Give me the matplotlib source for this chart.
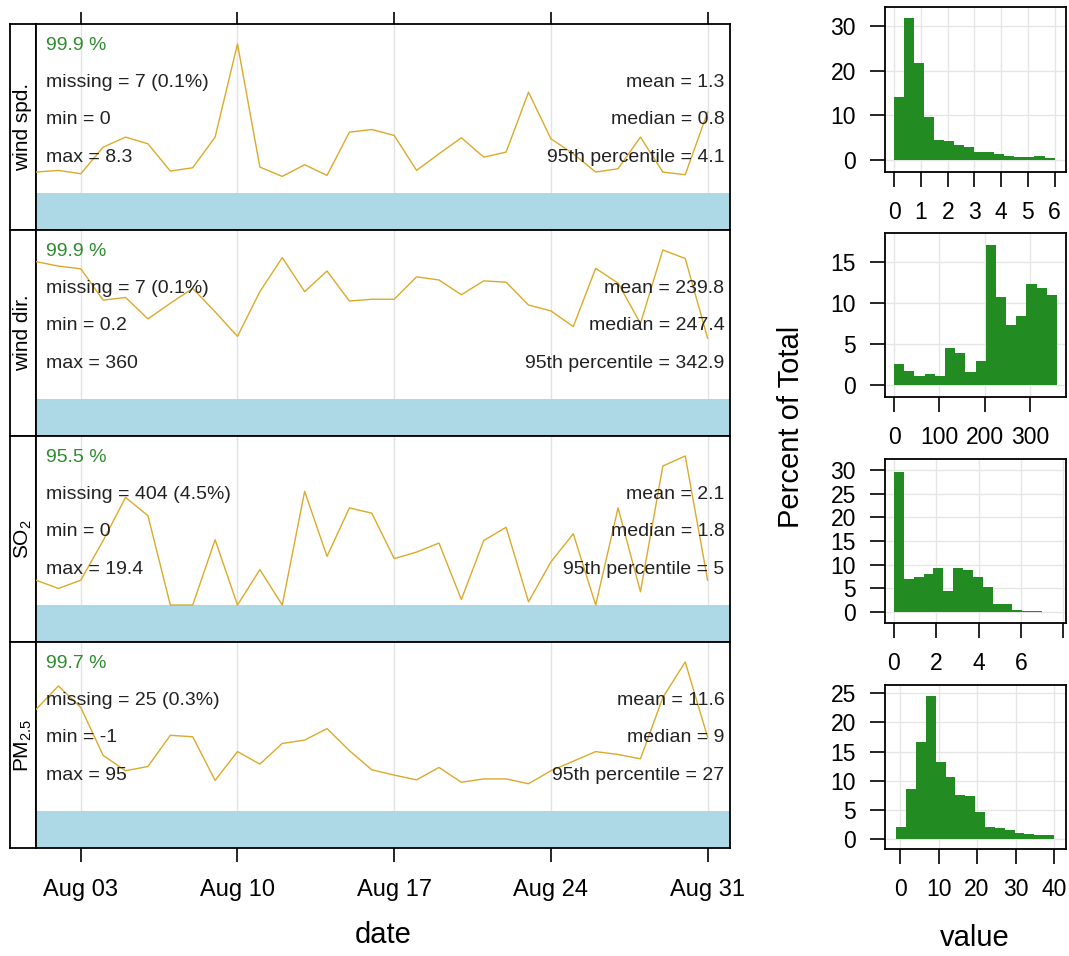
import numpy as np
import pandas as pd
import matplotlib
matplotlib.use("Agg")
import matplotlib.pyplot as plt
import matplotlib.dates as mdates

plt.rcParams['font.family'] = ['Liberation Sans', 'DejaVu Sans']
plt.rcParams['mathtext.fontset'] = 'custom'
plt.rcParams['mathtext.rm'] = 'Liberation Sans'
plt.rcParams['mathtext.it'] = 'Liberation Sans:italic'

# daily means, Aug 1 .. Aug 31
days = pd.date_range("2000-08-01", periods=31, freq="D")
ws = [0.63, 0.68, 0.58, 1.38, 1.68, 1.48, 0.66, 0.76, 1.68, 4.48, 0.78, 0.50, 0.85, 0.53, 1.83, 1.91,
      1.73, 0.68, 1.18, 1.66, 1.08, 1.23, 3.03, 1.63, 1.18, 0.63, 0.73, 1.68, 0.63, 0.55, 2.43]
wd = [307, 297, 291, 221, 227, 179, 214, 247, 195, 140, 240, 316, 240, 286, 219, 223,
      223, 273, 266, 233, 264, 261, 210, 197, 162, 292, 259, 169, 333, 314, 136]
so2 = [0.99, 0.66, 0.99, 2.57, 4.29, 3.56, 0.0, 0.0, 2.6, 0.0, 1.41, 0.0, 4.53, 1.94, 3.87, 3.66,
       1.85, 2.11, 2.47, 0.22, 2.57, 3.1, 0.13, 1.72, 2.84, 0.0, 3.87, 0.53, 5.54, 5.94, 0.99]
pm25 = [20.2, 25.1, 20.6, 10.6, 7.4, 8.3, 14.8, 14.5, 5.4, 11.4, 8.8, 13.1, 13.8, 16.2, 11.6, 7.6,
        6.5, 5.5, 8.1, 5.0, 5.7, 5.7, 4.7, 7.4, 9.4, 11.4, 10.8, 9.9, 22.7, 30.1, 14.4]

names = ["wind spd.", "wind dir.", "SO$_2$", "PM$_{2.5}$"]
series = [ws, wd, so2, pm25]
pct = ["99.9 %", "99.9 %", "95.5 %", "99.7 %"]
missing = ["missing = 7 (0.1%)", "missing = 7 (0.1%)", "missing = 404 (4.5%)", "missing = 25 (0.3%)"]
mins = [0, 0.2, 0, -1]
maxs = ["8.3", "360", "19.4", "95"]
means = ["1.3", "239.8", "2.1", "11.6"]
medians = ["0.8", "247.4", "1.8", "9"]
p95 = ["4.1", "342.9", "5", "27"]

# histograms (percent of total)
hist_edges = [(0, 6), (0, 360), (0, 7), (-1, 40)]
hist_vals = [
    [14.0, 31.8, 21.7, 9.6, 4.4, 4.3, 3.3, 2.8, 1.9, 1.8, 1.3, 1.0, 0.6, 0.6, 0.9, 0.5],
    [2.5, 1.75, 1.15, 1.3, 1.15, 4.5, 3.85, 1.55, 2.95, 17.1, 10.7, 7.3, 8.4, 12.35, 11.8, 10.9],
    [29.5, 7.05, 7.4, 8.1, 9.2, 4.45, 9.2, 8.8, 7.3, 5.3, 1.75, 1.75, 0.35, 0.3, 0.3],
    [2.0, 8.6, 16.7, 24.5, 13.2, 10.6, 7.6, 7.3, 4.65, 2.0, 1.9, 1.6, 1.05, 0.95, 0.65, 0.65],
]
hist_xticks = [[0, 1, 2, 3, 4, 5, 6], [0, 100, 200, 300], [0, 2, 4, 6, 8], [0, 10, 20, 30, 40]]
hist_xlabels = [["0", "1", "2", "3", "4", "5", "6"], ["0", "100", "200", "300"],
                ["0", "2", "4", "6", ""], ["0", "10", "20", "30", "40"]]
hist_yticks = [[0, 10, 20, 30], [0, 5, 10, 15], [0, 5, 10, 15, 20, 25, 30], [0, 5, 10, 15, 20, 25]]

W, H = 1069, 956
fig = plt.figure(figsize=(W / 100, H / 100), dpi=100)


def rect(x0, y0, x1, y1):
    return [x0 / W, 1 - y1 / H, (x1 - x0) / W, (y1 - y0) / H]


line_col = "#dcaa2a"
band_col = "#add8e6"
green = "#2e8b2e"
txt_col = "#222222"
lw_frame = 1.3

for i in range(4):
    top = 24 + 206 * i
    bot = top + 206
    sax = fig.add_axes(rect(10, top, 36, bot))
    sax.set_xticks([])
    sax.set_yticks([])
    for s in sax.spines.values():
        s.set_linewidth(lw_frame)
    sax.text(0.5, 0.5, names[i], rotation=90, ha="center", va="center",
             fontsize=15, transform=sax.transAxes)

    ax = fig.add_axes(rect(36, top, 730, bot))
    vals = series[i]
    lo = mins[i]
    r = max(vals) - lo
    y0, y1 = lo - 0.248 * r, lo + 1.134 * r
    ax.set_ylim(y0, y1)
    ax.set_xlim(days[0], days[-1] + pd.Timedelta(days=1))
    ax.axhspan(y0, lo, color=band_col, lw=0, zorder=1)
    ax.plot(days, vals, color=line_col, lw=1.0, zorder=3)
    ax.set_xticks(days[2::7])
    ax.xaxis.set_major_formatter(mdates.DateFormatter("%b %d"))
    ax.grid(axis="x", color="#e3e3e3", lw=1, zorder=0)
    ax.set_axisbelow(True)
    ax.set_yticks([])
    for s in ax.spines.values():
        s.set_linewidth(lw_frame)
    if i == 0:
        ax.tick_params(axis="x", top=True, bottom=False, labeltop=False, labelbottom=False,
                       direction="out", length=9, width=1.2)
    elif i == 3:
        ax.tick_params(axis="x", direction="out", length=10, width=1.2, labelsize=17, pad=12)
    else:
        ax.tick_params(axis="x", bottom=False, labelbottom=False)

    tr = ax.transAxes
    fs = 14
    xl, xr = 0.0145, 0.992
    ax.text(xl, 0.898, pct[i], color=green, fontsize=fs, va="center", ha="left", transform=tr, zorder=4)
    ax.text(xl, 0.714, missing[i], color=txt_col, fontsize=fs, va="center", ha="left", transform=tr, zorder=4)
    ax.text(xl, 0.534, "min = %s" % mins[i], color=txt_col, fontsize=fs, va="center", ha="left", transform=tr, zorder=4)
    ax.text(xl, 0.354, "max = %s" % maxs[i], color=txt_col, fontsize=fs, va="center", ha="left", transform=tr, zorder=4)
    ax.text(xr, 0.714, "mean = %s" % means[i], color=txt_col, fontsize=fs, va="center", ha="right", transform=tr, zorder=4)
    ax.text(xr, 0.534, "median = %s" % medians[i], color=txt_col, fontsize=fs, va="center", ha="right", transform=tr, zorder=4)
    ax.text(xr, 0.354, "95th percentile = %s" % p95[i], color=txt_col, fontsize=fs, va="center", ha="right", transform=tr, zorder=4)

fig.text(383 / W, 1 - 935 / H, "date", fontsize=21, ha="center", va="center")

# histograms
hist_rects = [(885, 7, 1066, 172), (885, 233, 1066, 397), (885, 459, 1066, 623), (885, 685, 1066, 849)]
hist_xlim = [(-0.35, 6.43), (-20, 380), (-0.42, 8.13), (-3.9, 43.1)]
hist_ylim = [(-2.68, 34.2), (-1.46, 18.5), (-2.3, 32.3), (-1.7, 26.4)]

for i in range(4):
    hax = fig.add_axes(rect(*hist_rects[i]))
    a, b = hist_edges[i]
    edges = np.linspace(a, b, len(hist_vals[i]) + 1)
    hax.stairs(hist_vals[i], edges, baseline=0, fill=True, color="#228b22", zorder=3)
    hax.set_xlim(*hist_xlim[i])
    hax.set_ylim(*hist_ylim[i])
    hax.set_xticks(hist_xticks[i])
    hax.set_xticklabels(hist_xlabels[i])
    hax.set_yticks(hist_yticks[i])
    hax.grid(color="#e6e6e6", lw=1, zorder=0)
    hax.set_axisbelow(True)
    hax.tick_params(direction="out", length=11, width=1.2, labelsize=16.5, pad=10)
    for s in hax.spines.values():
        s.set_linewidth(lw_frame)

fig.text(791 / W, 1 - 427 / H, "Percent of Total", fontsize=21, rotation=90, ha="center", va="center")
fig.text(975 / W, 1 - 938 / H, "value", fontsize=21, ha="center", va="center")

fig.savefig("out.png", dpi=100)
